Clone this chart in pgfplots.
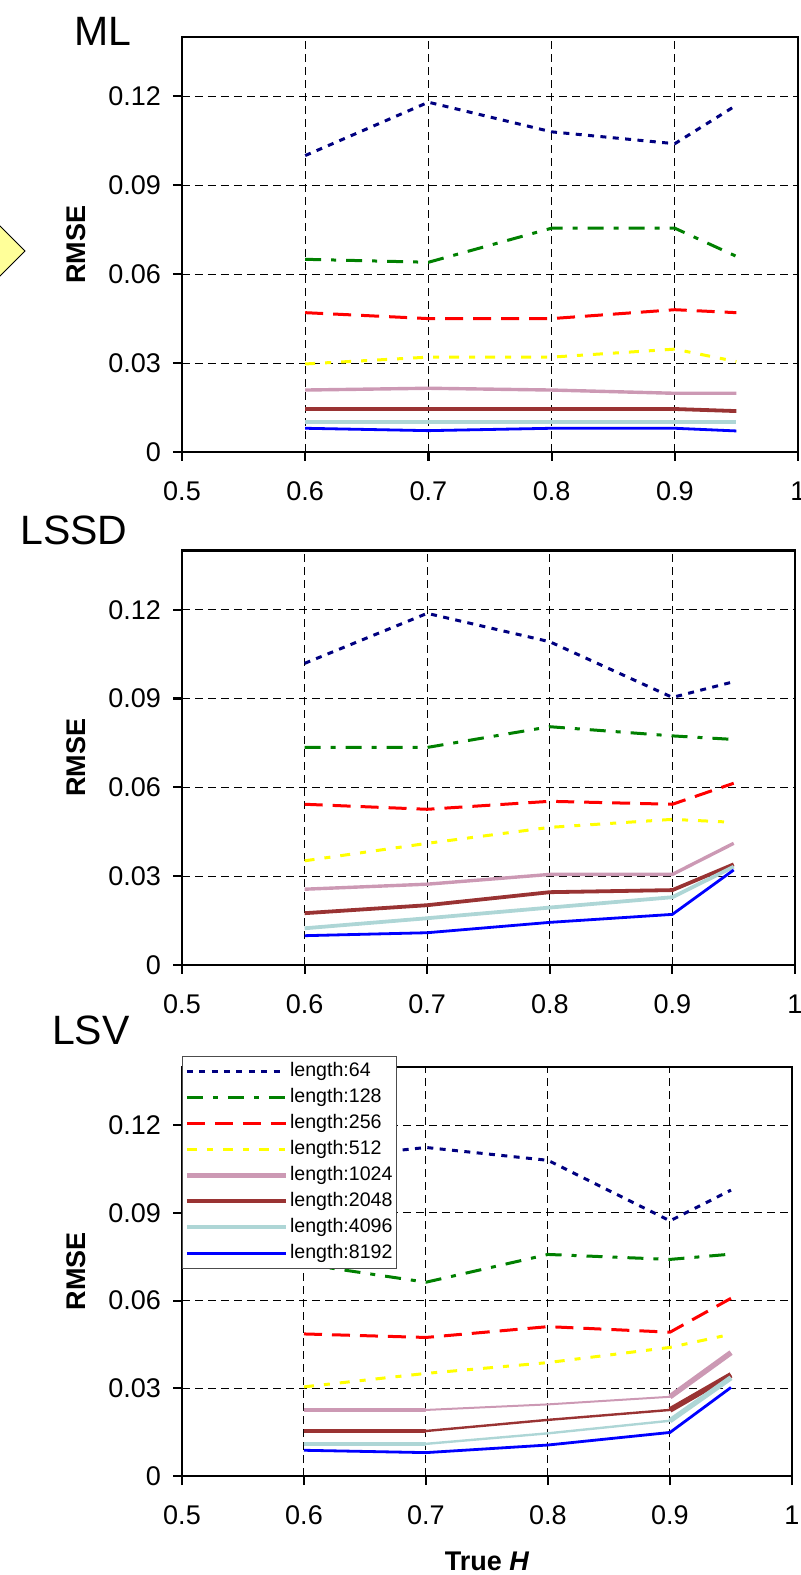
\documentclass[border=0pt]{standalone}
\usepackage{fontspec}
\setmainfont{Liberation Sans}
\usepackage{pgfplots}
\pgfplotsset{compat=1.18}

\definecolor{c64}{HTML}{000080}
\definecolor{c128}{HTML}{008000}
\definecolor{c256}{HTML}{FF0000}
\definecolor{c512}{HTML}{FFFF00}
\definecolor{c1024}{HTML}{CC99B4}
\definecolor{c2048}{HTML}{993333}
\definecolor{c4096}{HTML}{AED6D6}
\definecolor{c8192}{HTML}{0000FF}
\definecolor{diam}{HTML}{FFFF99}

\newcommand{\legfont}{\fontsize{9.8}{11}\selectfont}

\pgfplotsset{
  s64/.style={color=c64, line width=1.5pt, dash pattern=on 3pt off 3.2pt},
  s128/.style={color=c128, line width=1.5pt, dash pattern=on 8pt off 5pt on 2.5pt off 5pt},
  s256/.style={color=c256, line width=1.5pt, dash pattern=on 9pt off 5pt},
  s512/.style={color=c512, line width=1.5pt, dash pattern=on 5pt off 5pt on 3pt off 5pt},
  s1024/.style={color=c1024, line width=1.7pt},
  s2048/.style={color=c2048, line width=1.9pt},
  s4096/.style={color=c4096, line width=1.9pt},
  s8192/.style={color=c8192, line width=1.4pt},
  panel/.style={
    scale only axis, anchor=south west,
    xmin=0.5, xmax=1, ymin=0, ymax=0.14,
    xtick={0.5,0.6,0.7,0.8,0.9,1}, xticklabels={0.5,0.6,0.7,0.8,0.9,1},
    ytick={0,0.03,0.06,0.09,0.12}, yticklabels={0,0.03,0.06,0.09,0.12},
    xtick pos=left, ytick pos=left,
    tick align=outside, major tick length=4.5pt,
    grid=major,
    major grid style={black, line width=0.5pt, dash pattern=on 4pt off 2.5pt},
    axis line style={line width=1.1pt},
    every tick/.style={black, line width=1.1pt},
    ticklabel style={font=\fontsize{13.5}{16}\selectfont},
    xticklabel style={yshift=-7pt},
    yticklabel style={xshift=-2.5pt},
    ylabel={\textbf{RMSE}},
    label style={font=\fontsize{13.5}{16}\selectfont},
    clip=false,
  },
}

\begin{document}
\begin{tikzpicture}
\path[use as bounding box] (0pt,0pt) rectangle (400.5pt,787.5pt);

% decorative diamond at left edge
\filldraw[fill=diam, draw=black, line width=0.5pt] (-1pt,675.5pt) -- (12.5pt,662pt) -- (-1pt,648.5pt) -- cycle;

% ---------------- Panel 1: ML ----------------
\begin{axis}[panel, at={(91pt,561.5pt)}, width=308pt, height=207.5pt,
  ylabel style={at={(axis description cs:-0.1713,0.5)}, anchor=center}]
\addplot[s64] coordinates {(0.6,0.100)(0.7,0.118)(0.8,0.108)(0.9,0.104)(0.95,0.117)};
\addplot[s128] coordinates {(0.6,0.065)(0.7,0.064)(0.8,0.0755)(0.9,0.0755)(0.95,0.066)};
\addplot[s256] coordinates {(0.6,0.047)(0.7,0.045)(0.8,0.045)(0.9,0.048)(0.95,0.047)};
\addplot[s512] coordinates {(0.6,0.0297)(0.7,0.032)(0.8,0.032)(0.9,0.0347)(0.95,0.0305)};
\addplot[s1024] coordinates {(0.6,0.0209)(0.7,0.0215)(0.8,0.0209)(0.9,0.0198)(0.95,0.0198)};
\addplot[s2048] coordinates {(0.6,0.0145)(0.7,0.0145)(0.8,0.0145)(0.9,0.0145)(0.95,0.0138)};
\addplot[s4096] coordinates {(0.6,0.0102)(0.7,0.0102)(0.8,0.0102)(0.9,0.0102)(0.95,0.0102)};
\addplot[s8192] coordinates {(0.6,0.008)(0.7,0.0072)(0.8,0.008)(0.9,0.008)(0.95,0.0071)};
\end{axis}
\node[anchor=base east, inner sep=0pt, font=\fontsize{20.5}{24}\selectfont] at (66pt,764.5pt) {ML};

% ---------------- Panel 2: LSSD ----------------
\begin{axis}[panel, at={(91pt,305pt)}, width=306.5pt, height=207.2pt,
  ylabel style={at={(axis description cs:-0.1721,0.5)}, anchor=center}]
\addplot[s64] coordinates {(0.6,0.1019)(0.7,0.1188)(0.8,0.1092)(0.9,0.0904)(0.95,0.0957)};
\addplot[s128] coordinates {(0.6,0.0735)(0.7,0.0735)(0.8,0.0805)(0.9,0.0774)(0.95,0.0762)};
\addplot[s256] coordinates {(0.6,0.0543)(0.7,0.0526)(0.8,0.0553)(0.9,0.0543)(0.95,0.0614)};
\addplot[s512] coordinates {(0.6,0.0352)(0.7,0.0411)(0.8,0.0465)(0.9,0.0492)(0.95,0.0482)};
\addplot[s1024] coordinates {(0.6,0.0256)(0.7,0.0273)(0.8,0.0306)(0.9,0.0306)(0.95,0.0411)};
\addplot[s2048] coordinates {(0.6,0.0175)(0.7,0.0202)(0.8,0.0246)(0.9,0.0253)(0.95,0.034)};
\addplot[s4096] coordinates {(0.6,0.0124)(0.7,0.0158)(0.8,0.0194)(0.9,0.0229)(0.95,0.0332)};
\addplot[s8192] coordinates {(0.6,0.0099)(0.7,0.0109)(0.8,0.0144)(0.9,0.0171)(0.95,0.0321)};
\end{axis}
\node[anchor=base east, inner sep=0pt, font=\fontsize{20.5}{24}\selectfont] at (64pt,515pt) {LSSD};

% ---------------- Panel 3: LSV ----------------
\begin{axis}[panel, at={(91pt,49.5pt)}, width=305pt, height=204.6pt,
  ylabel style={at={(axis description cs:-0.1730,0.5)}, anchor=center},
  xlabel={\textbf{True \textit{H}}},
  xlabel style={at={(axis description cs:0.5,-0.2077)}, anchor=center},
  legend cell align=left,
  legend image code/.code={\draw[#1] (0pt,0pt) -- (49.5pt,0pt);},
  legend style={at={(axis description cs:0,1.0269)}, anchor=north west,
    draw=black!70, line width=0.5pt, fill=white,
    font=\legfont,
    inner xsep=1pt, inner ysep=1pt, row sep=0pt,
    nodes={font=\legfont, inner xsep=1pt, inner ysep=1.6pt, text height=7.3pt, text depth=2.5pt}},
]
\addplot[s64] coordinates {(0.6,0.108)(0.7,0.1124)(0.8,0.108)(0.9,0.0873)(0.95,0.0978)};
\addlegendentry{length:64}
\addplot[s128] coordinates {(0.6,0.0725)(0.7,0.0663)(0.8,0.0758)(0.9,0.0741)(0.95,0.0759)};
\addlegendentry{length:128}
\addplot[s256] coordinates {(0.6,0.0486)(0.7,0.0474)(0.8,0.0511)(0.9,0.0492)(0.95,0.0608)};
\addlegendentry{length:256}
\addplot[s512] coordinates {(0.6,0.0305)(0.7,0.0351)(0.8,0.0388)(0.9,0.044)(0.95,0.0485)};
\addlegendentry{length:512}
\addplot[s1024, line width=1pt, legend image post style={line width=2.3pt}] coordinates {(0.6,0.0226)(0.7,0.0226)(0.8,0.0245)(0.9,0.0271)(0.95,0.0422)};
\addlegendentry{length:1024}
\addplot[s1024, line width=2pt, forget plot] coordinates {(0.6,0.0226)(0.7,0.0226)};
\addplot[s1024, line width=2.7pt, forget plot] coordinates {(0.9,0.0271)(0.95,0.0422)};
\addplot[s2048, line width=1.2pt, legend image post style={line width=2pt}] coordinates {(0.6,0.0154)(0.7,0.0154)(0.8,0.0192)(0.9,0.0226)(0.95,0.0346)};
\addlegendentry{length:2048}
\addplot[s2048, line width=1.8pt, forget plot] coordinates {(0.6,0.0154)(0.7,0.0154)};
\addplot[s2048, line width=2.8pt, forget plot] coordinates {(0.9,0.0226)(0.95,0.0346)};
\addplot[s4096, line width=1.2pt, legend image post style={line width=1.8pt}] coordinates {(0.6,0.011)(0.7,0.011)(0.8,0.0146)(0.9,0.0189)(0.95,0.0336)};
\addlegendentry{length:4096}
\addplot[s4096, line width=1.9pt, forget plot] coordinates {(0.6,0.011)(0.7,0.011)};
\addplot[s4096, line width=2.6pt, forget plot] coordinates {(0.9,0.0189)(0.95,0.0336)};
\addplot[s8192] coordinates {(0.6,0.0088)(0.7,0.008)(0.8,0.0106)(0.9,0.0149)(0.95,0.0303)};
\addlegendentry{length:8192}
\end{axis}
\node[anchor=base east, inner sep=0pt, font=\fontsize{20.5}{24}\selectfont] at (65pt,265pt) {LSV};
\end{tikzpicture}
\end{document}
